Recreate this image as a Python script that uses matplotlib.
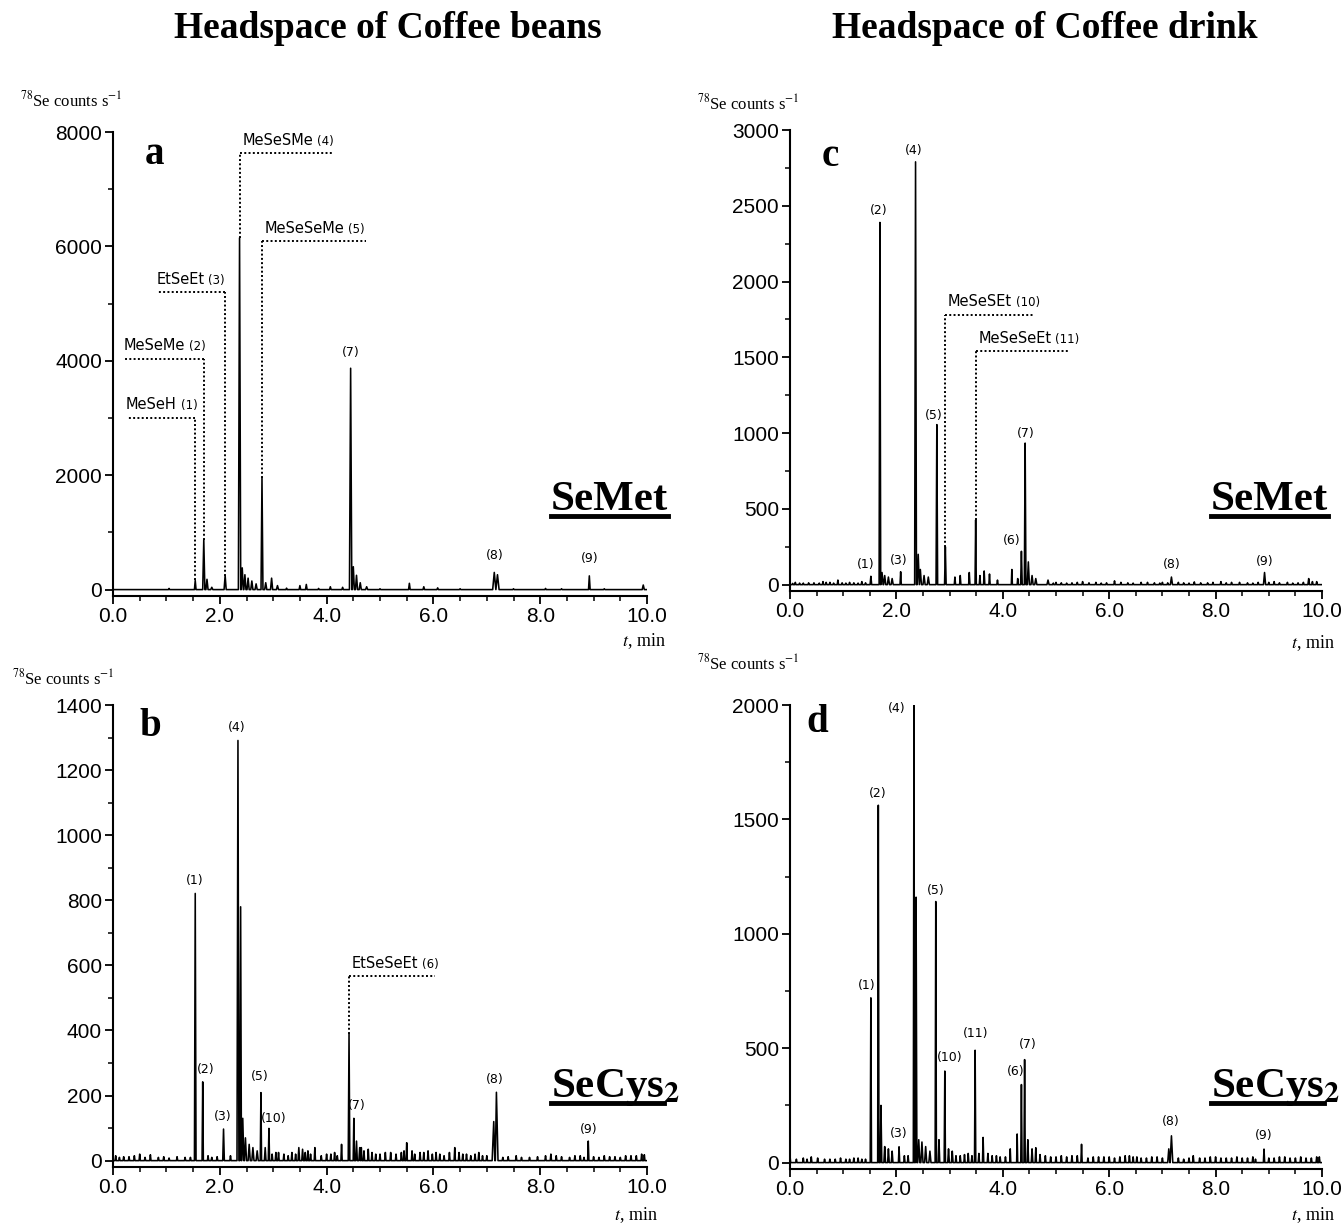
import matplotlib

matplotlib.use("Agg")
import matplotlib.pyplot as plt
from matplotlib.ticker import MultipleLocator, FormatStrFormatter
from matplotlib.lines import Line2D

plt.rcParams["mathtext.fontset"] = "stix"

W, H = 1343, 1224

# ---- panel a: coffee beans, SeMet ----
a_peak_t = [1.54, 1.70, 1.76, 1.85, 2.10, 2.37, 2.42, 2.47, 2.53, 2.60, 2.68,
            2.79, 2.86, 2.97, 3.08, 3.50, 3.62, 4.07, 4.30, 4.45, 4.50, 4.56,
            4.63, 4.75, 5.55, 5.82, 6.08, 7.14, 7.20, 8.92, 9.93]
a_peak_h = [160, 870, 180, 40, 245, 6150, 380, 260, 200, 150, 100,
            1950, 120, 200, 70, 70, 90, 50, 40, 3870, 400, 250,
            120, 50, 110, 50, 30, 300, 260, 240, 80]
a_peak_w = [0.015, 0.02, 0.02, 0.02, 0.02, 0.022, 0.02, 0.02, 0.02, 0.02, 0.02,
            0.018, 0.02, 0.02, 0.02, 0.015, 0.015, 0.015, 0.015, 0.022, 0.02, 0.02,
            0.02, 0.02, 0.015, 0.015, 0.015, 0.03, 0.03, 0.015, 0.02]
a_noise_t = [1.05, 3.25, 3.85, 5.0, 6.5, 7.5, 8.1, 8.4, 9.2]
a_noise_h = [20, 25, 20, 15, 15, 15, 20, 15, 15]

# ---- panel b: coffee beans, SeCys2 ----
b_peak_t = [1.54, 1.68, 2.07, 2.34, 2.39, 2.43, 2.48, 2.55, 2.62, 2.70, 2.77,
            2.85, 2.92, 3.48, 3.55, 3.78, 4.28, 4.42, 4.51, 4.56, 4.62, 5.50,
            6.40, 7.13, 7.18, 8.90]
b_peak_h = [821, 242, 97, 1291, 780, 130, 70, 50, 40, 30, 209,
            40, 99, 40, 35, 40, 50, 389, 130, 60, 40, 55,
            40, 120, 210, 60]
b_peak_w = [0.015, 0.012, 0.015, 0.018, 0.015, 0.02, 0.02, 0.02, 0.02, 0.02, 0.012,
            0.015, 0.012, 0.015, 0.015, 0.012, 0.012, 0.015, 0.012, 0.015, 0.015, 0.012,
            0.012, 0.03, 0.03, 0.012]
b_noise_t = [0.05, 0.2, 0.4, 0.5, 0.7, 0.85, 1.2, 1.35, 1.78, 1.85, 3.05, 3.2, 3.35,
             3.65, 4.0, 4.15, 4.7, 4.85, 5.0, 5.2, 5.4, 5.6, 5.75, 5.9, 6.05, 6.2,
             6.55, 6.7, 6.85, 7.0, 7.3, 7.55, 7.8, 8.1, 8.3, 8.55, 8.75, 9.1, 9.3,
             9.5, 9.7, 9.9,
             0.12, 0.3, 0.6, 0.95, 1.05, 1.45, 1.95, 2.2, 2.98, 3.1, 3.28, 3.42,
             3.6, 3.7, 3.9, 4.08, 4.2, 4.65, 4.78, 4.92, 5.1, 5.3, 5.45, 5.65,
             5.82, 5.98, 6.12, 6.3, 6.48, 6.62, 6.78, 6.92, 7.4, 7.65, 7.95, 8.2,
             8.4, 8.65, 8.82, 9.0, 9.2, 9.4, 9.6, 9.8, 9.95]
b_noise_h = [15, 12, 15, 20, 18, 10, 12, 10, 15, 10, 25, 20, 25,
             30, 20, 25, 30, 25, 20, 25, 25, 30, 25, 30, 25, 15,
             20, 15, 25, 15, 10, 15, 10, 15, 15, 10, 15, 10, 12,
             10, 15, 20,
             10, 12, 10, 12, 8, 10, 12, 15, 20, 25, 15, 20,
             25, 20, 15, 20, 15, 40, 35, 20, 25, 20, 30, 20,
             25, 20, 20, 25, 25, 20, 20, 15, 12, 10, 12, 20,
             12, 15, 10, 12, 15, 12, 15, 15, 18]

# ---- panel c: coffee drink, SeMet ----
c_peak_t = [1.52, 1.69, 1.73, 1.78, 1.85, 1.92, 2.08, 2.36, 2.41, 2.45, 2.52,
            2.60, 2.76, 2.92, 3.10, 3.20, 3.37, 3.49, 3.57, 3.65, 3.75, 3.90,
            4.17, 4.28, 4.35, 4.42, 4.48, 4.55, 4.62, 4.85, 7.17, 8.92, 9.75]
c_peak_h = [55, 2390, 80, 60, 50, 40, 85, 2790, 200, 100, 60,
            50, 1056, 250, 50, 60, 80, 427, 60, 90, 70, 30,
            100, 40, 220, 934, 150, 60, 40, 30, 50, 80, 40]
c_peak_w = [0.015, 0.015, 0.02, 0.02, 0.02, 0.02, 0.012, 0.017, 0.02, 0.02, 0.02,
            0.02, 0.015, 0.015, 0.012, 0.012, 0.012, 0.012, 0.012, 0.012, 0.012, 0.012,
            0.01, 0.01, 0.015, 0.015, 0.02, 0.02, 0.02, 0.02, 0.02, 0.02, 0.015]
c_noise_t = [0.1, 0.25, 0.45, 0.62, 0.75, 0.9, 1.05, 1.2, 1.35, 5.0, 5.3, 5.5, 5.75,
             6.1, 6.35, 6.6, 6.85, 7.0, 7.4, 7.6, 7.85, 8.1, 8.3, 8.6, 8.8, 9.1,
             9.35, 9.55, 9.9,
             0.05, 0.18, 0.35, 0.55, 0.68, 0.82, 0.98, 1.12, 1.28, 1.42, 4.95, 5.1,
             5.2, 5.4, 5.62, 5.85, 5.95, 6.22, 6.45, 6.72, 6.95, 7.1, 7.3, 7.5,
             7.72, 7.95, 8.2, 8.45, 8.7, 9.0, 9.2, 9.45, 9.65, 9.82]
c_noise_h = [15, 10, 12, 20, 15, 30, 10, 12, 20, 15, 12, 20, 15,
             25, 12, 15, 12, 15, 12, 18, 12, 20, 15, 12, 15, 20,
             15, 12, 20,
             8, 10, 12, 10, 15, 10, 12, 15, 10, 12, 10, 12,
             10, 15, 12, 10, 12, 15, 10, 15, 10, 12, 15, 10,
             12, 15, 12, 15, 10, 15, 12, 10, 15, 20]

# ---- panel d: coffee drink, SeCys2 ----
d_peak_t = [1.52, 1.66, 1.71, 1.78, 1.85, 1.92, 2.05, 2.33, 2.37, 2.42, 2.48,
            2.55, 2.63, 2.74, 2.80, 2.91, 2.98, 3.05, 3.48, 3.63, 4.14, 4.27,
            4.35, 4.41, 4.47, 4.55, 4.62, 5.48, 7.12, 7.17, 8.91]
d_peak_h = [720, 1562, 250, 70, 60, 50, 69, 2000, 1160, 100, 90,
            70, 50, 1141, 100, 400, 60, 50, 491, 110, 60, 125,
            341, 450, 100, 60, 65, 80, 60, 117, 59]
d_peak_w = [0.012, 0.012, 0.015, 0.015, 0.015, 0.015, 0.012, 0.012, 0.015, 0.02, 0.02,
            0.02, 0.02, 0.012, 0.015, 0.012, 0.015, 0.015, 0.012, 0.012, 0.01, 0.01,
            0.012, 0.012, 0.015, 0.015, 0.012, 0.012, 0.02, 0.025, 0.012]
d_noise_t = [0.0, 0.25, 0.4, 0.65, 0.85, 1.05, 1.2, 1.35, 2.15, 3.2, 3.35, 3.55,
             3.72, 3.8, 3.95, 4.8, 5.0, 5.3, 5.6, 5.8, 6.0, 6.3, 6.45, 6.6, 6.8,
             7.4, 7.58, 7.9, 8.1, 8.3, 8.6, 8.75, 9.1, 9.3, 9.5, 9.7, 9.95,
             0.12, 0.32, 0.52, 0.75, 0.95, 1.12, 1.28, 1.42, 2.22, 3.12, 3.28, 3.42,
             3.88, 4.05, 4.7, 4.9, 5.1, 5.2, 5.4, 5.7, 5.9, 6.1, 6.2, 6.38, 6.52,
             6.7, 6.9, 7.0, 7.3, 7.5, 7.7, 7.8, 8.0, 8.2, 8.4, 8.5, 8.7, 9.0, 9.2,
             9.4, 9.6, 9.8, 9.9]
d_noise_h = [30, 20, 25, 15, 15, 15, 20, 15, 30, 30, 40, 40,
             40, 30, 25, 30, 25, 30, 20, 25, 25, 30, 25, 20, 25,
             15, 30, 25, 20, 20, 20, 15, 20, 25, 20, 20, 25,
             15, 15, 20, 15, 20, 15, 20, 15, 30, 30, 35, 30,
             30, 25, 35, 25, 30, 25, 30, 25, 25, 20, 25, 30, 25,
             20, 25, 20, 20, 20, 20, 20, 25, 20, 25, 20, 25, 20, 25,
             20, 25, 20, 25]

# peak number labels (text, x, y) in data units
a_labels = [("(7)", 4.45, 4150), ("(8)", 7.15, 600), ("(9)", 8.92, 550)]
b_labels = [("(1)", 1.53, 860), ("(2)", 1.73, 280), ("(3)", 2.06, 135),
            ("(4)", 2.32, 1330), ("(5)", 2.74, 260), ("(10)", 3.0, 130),
            ("(7)", 4.56, 170), ("(8)", 7.15, 250), ("(9)", 8.90, 96)]
c_labels = [("(1)", 1.42, 135), ("(2)", 1.66, 2470), ("(3)", 2.05, 160),
            ("(4)", 2.33, 2865), ("(5)", 2.71, 1115), ("(6)", 4.17, 290),
            ("(7)", 4.43, 995), ("(8)", 7.17, 130), ("(9)", 8.93, 155)]
d_labels = [("(1)", 1.44, 775), ("(2)", 1.64, 1612), ("(3)", 2.05, 125),
            ("(4)", 2.0, 1985), ("(5)", 2.74, 1190), ("(10)", 3.0, 458),
            ("(11)", 3.48, 565), ("(6)", 4.24, 400), ("(7)", 4.46, 517),
            ("(8)", 7.15, 180), ("(9)", 8.91, 117)]

# compound callouts: name, number, peak t, peak h, line level, line end x
a_callouts = [("MeSeH", "(1)", 1.54, 160, 3000, 0.27),
              ("MeSeMe", "(2)", 1.70, 870, 4040, 0.22),
              ("EtSeEt", "(3)", 2.10, 245, 5200, 0.84),
              ("MeSeSMe", "(4)", 2.37, 6150, 7630, 4.12),
              ("MeSeSeMe", "(5)", 2.79, 1950, 6090, 4.73)]
b_callouts = [("EtSeSeEt", "(6)", 4.42, 389, 566, 6.03)]
c_callouts = [("MeSeSEt", "(10)", 2.92, 250, 1780, 4.57),
              ("MeSeSeEt", "(11)", 3.49, 427, 1540, 5.22)]


def px(x, y):
    return x / W, 1 - y / H


def trace(pt, ph, pw, nt, nh, nw=0.012):
    pts = [(0.0, 0.0), (10.0, 0.0)]
    for t, h, w in list(zip(pt, ph, pw)) + [(t, h, nw) for t, h in zip(nt, nh)]:
        pts += [(max(t - w, 0.0), 0.0), (t, h), (min(t + w, 10.0), 0.0)]
    pts.sort(key=lambda p: p[0])
    return [p[0] for p in pts], [p[1] for p in pts]


def setup_axes(fig, rect, ymax, ymajor):
    ax = fig.add_axes(rect)
    ax.set_xlim(0, 10)
    ax.set_ylim(-0.014 * ymax, ymax)
    for s in ["top", "right"]:
        ax.spines[s].set_visible(False)
    for s in ["left", "bottom"]:
        ax.spines[s].set_linewidth(1.5)
    ax.xaxis.set_major_locator(MultipleLocator(2))
    ax.xaxis.set_minor_locator(MultipleLocator(0.5))
    ax.xaxis.set_major_formatter(FormatStrFormatter("%.1f"))
    ax.yaxis.set_major_locator(MultipleLocator(ymajor))
    ax.yaxis.set_minor_locator(MultipleLocator(ymajor / 2))
    ax.tick_params(which="major", direction="out", length=6, width=1.3,
                   labelsize=15, pad=2)
    ax.tick_params(which="minor", direction="out", length=3.5, width=1.1)
    for lab in ax.get_xticklabels() + ax.get_yticklabels():
        lab.set_fontfamily("Liberation Sans")
    ax.patch.set_alpha(0)
    return ax


def draw_callouts(ax, callouts, renderer):
    for name, num, t, h, level, xend in callouts:
        ax.plot([t, t], [h, level], color="black", lw=1.4, ls=(0, (1, 1.2)))
        ax.plot([t, xend], [level, level], color="black", lw=1.4, ls=(0, (1, 1.2)))
        if xend < t:
            x0 = xend - 0.03
        else:
            x0 = t + 0.05
        txt = ax.annotate(name, (x0, level), xytext=(0, 4), textcoords="offset points",
                          fontsize=10.5, family="DejaVu Sans", va="bottom", ha="left")
        bb = txt.get_window_extent(renderer)
        xd, _ = ax.transData.inverted().transform((bb.x1 + 4, 0))
        ax.annotate(num, (xd, level), xytext=(0, 4), textcoords="offset points",
                    fontsize=8.5, family="DejaVu Sans", va="bottom", ha="left")


def draw_panel(fig, rect, ymax, ymajor, data, labels, callouts, letter,
               sample, sample_px, ylab_px, tmin_px, letter_px):
    ax = setup_axes(fig, rect, ymax, ymajor)
    x, y = trace(*data)
    ax.plot(x, y, color="black", lw=1.15)
    for txt, lx, ly in labels:
        ax.text(lx, ly, txt, ha="center", va="center", fontsize=9,
                family="DejaVu Sans")
    renderer = fig.canvas.get_renderer()
    draw_callouts(ax, callouts, renderer)

    fig.text(*px(*ylab_px), r"$^{78}$Se counts s$^{-1}$", fontsize=12,
             family="Liberation Serif", ha="left", va="center")
    fig.text(*px(*tmin_px), r"$\it{t}$, min", fontsize=13,
             family="Liberation Serif", ha="right", va="center")
    fig.text(*px(*letter_px), letter, fontsize=28, fontweight="bold",
             family="Liberation Serif", ha="center", va="center")
    st = fig.text(*px(*sample_px), sample, fontsize=31, fontweight="bold",
                  family="Liberation Serif", ha="right", va="baseline")
    bb = st.get_window_extent(renderer)
    uy = sample_px[1] + 6
    fig.add_artist(Line2D([bb.x0 / W, bb.x1 / W - (0.012 if "Cys" in sample else 0)],
                          [1 - uy / H, 1 - uy / H], color="black", lw=3.5))
    return ax


fig = plt.figure(figsize=(W / 100, H / 100), dpi=100)

draw_panel(fig, [113 / W, 1 - 596 / H, 534 / W, 464 / H], 8000, 2000,
           (a_peak_t, a_peak_h, a_peak_w, a_noise_t, a_noise_h),
           a_labels, a_callouts, "a", "SeMet", (668, 510), (20, 100),
           (666, 641), (155, 155))
draw_panel(fig, [113 / W, 1 - 1167 / H, 534 / W, 462 / H], 1400, 200,
           (b_peak_t, b_peak_h, b_peak_w, b_noise_t, b_noise_h),
           b_labels, b_callouts, "b", r"SeCys$_\mathbf{2}$", (680, 1097), (12, 678),
           (658, 1215), (150, 727))
draw_panel(fig, [790 / W, 1 - 591 / H, 532 / W, 461 / H], 3000, 500,
           (c_peak_t, c_peak_h, c_peak_w, c_noise_t, c_noise_h),
           c_labels, c_callouts, "c", "SeMet", (1328, 510), (697, 103),
           (1335, 643), (830, 157))
draw_panel(fig, [790 / W, 1 - 1169 / H, 532 / W, 464 / H], 2000, 500,
           (d_peak_t, d_peak_h, d_peak_w, d_noise_t, d_noise_h),
           d_labels, [], "d", r"SeCys$_\mathbf{2}$", (1340, 1097), (697, 663),
           (1335, 1215), (817, 722))

fig.text(*px(388, 28), "Headspace of Coffee beans", fontsize=27, fontweight="bold",
         family="Liberation Serif", ha="center", va="center")
fig.text(*px(1045, 28), "Headspace of Coffee drink", fontsize=27, fontweight="bold",
         family="Liberation Serif", ha="center", va="center")

fig.savefig("out.png", dpi=100)
